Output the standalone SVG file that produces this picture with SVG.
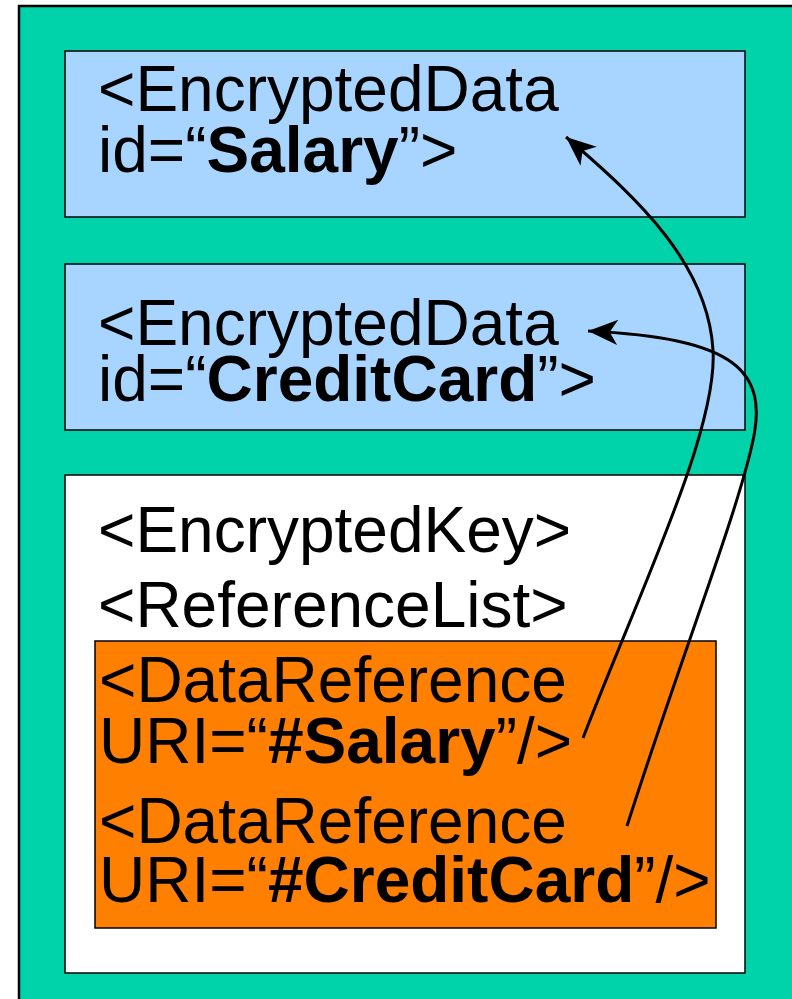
<svg xmlns="http://www.w3.org/2000/svg" width="792" height="999" viewBox="0 0 792 999">
<defs>
<style>
.t{font-family:"Liberation Sans",Arial,sans-serif;font-size:64px;fill:#000}
.b{font-weight:bold}
.box{stroke:#000;stroke-width:1.5}
.con{fill:none;stroke:#000;stroke-width:3}
</style>
<marker id="ah" markerUnits="userSpaceOnUse" markerWidth="40" markerHeight="40" viewBox="-30 -15 35 30" refX="0" refY="0" orient="auto">
<path d="M0,0 L-26,-11 L-19,0 L-26,11 Z" fill="#000"/>
</marker>
</defs>
<rect width="792" height="999" fill="#fff"/>
<g id="outer">
<rect x="19" y="6" width="790" height="1010" fill="#00D2AA" stroke="#000" stroke-width="2.5"/>
</g>
<g id="encdata-salary">
<rect class="box" x="65" y="51" width="680" height="166" fill="#A8D5FF"/>
<text class="t" x="98" y="111">&lt;EncryptedData</text>
<text class="t" x="98" y="172">id=“<tspan class="b">Salary</tspan>”&gt;</text>
</g>
<g id="encdata-creditcard">
<rect class="box" x="65" y="264" width="680" height="166" fill="#A8D5FF"/>
<text class="t" x="98" y="345">&lt;EncryptedData</text>
<text class="t" x="98" y="401">id=“<tspan class="b">CreditCard</tspan>”&gt;</text>
</g>
<g id="encryptedkey">
<rect class="box" x="65" y="475" width="680" height="498" fill="#fff"/>
<text class="t" x="98" y="552">&lt;EncryptedKey&gt;</text>
<text class="t" x="98" y="627">&lt;ReferenceList&gt;</text>
</g>
<g id="datarefs">
<rect class="box" x="95" y="641" width="621" height="287" fill="#FF7F00"/>
<text class="t" x="99" y="702">&lt;DataReference</text>
<text class="t" x="99" y="763">URI=“<tspan class="b">#Salary</tspan>”/&gt;</text>
<text class="t" x="99" y="843">&lt;DataReference</text>
<text class="t" x="99" y="902">URI=“<tspan class="b">#CreditCard</tspan>”/&gt;</text>
</g>
<g id="connectors">
<path class="con" d="M583,738 C640,590 718,430 713,350 C708,265 640,200 566,137" marker-end="url(#ah)"/>
<path class="con" d="M627,826 C680,660 735,520 752,445 C770,370 735,338 588,331" marker-end="url(#ah)"/>
</g>
</svg>
